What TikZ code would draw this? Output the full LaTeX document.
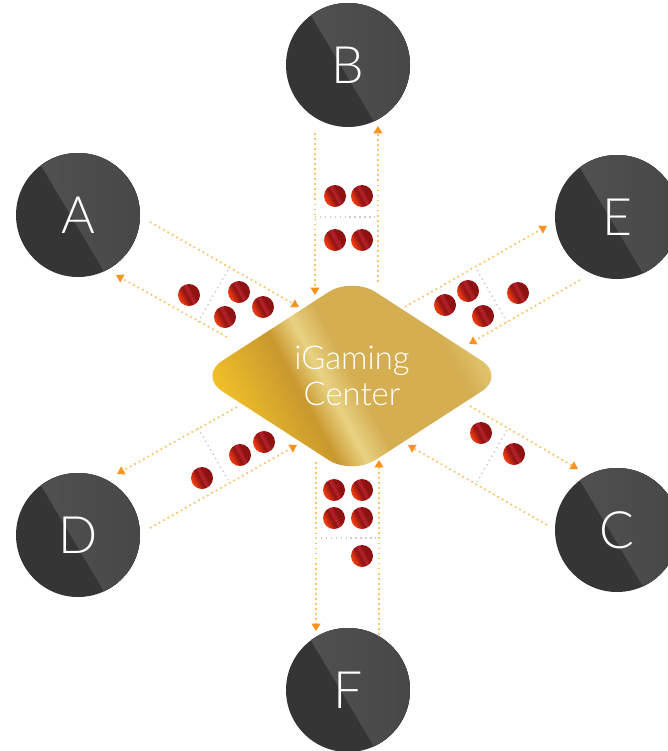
\documentclass[tikz,border=0pt]{standalone}
\usepackage{fontspec}
\setsansfont{Lato Light}
\usetikzlibrary{arrows.meta, shapes.geometric, calc}
\definecolor{cdark}{HTML}{363536}
\definecolor{cband}{HTML}{555454}
\definecolor{cedge}{HTML}{424142}
\definecolor{cflow}{HTML}{F9C46A}
\definecolor{ctip}{HTML}{F7931E}
\definecolor{csep}{HTML}{CCCCCC}
\definecolor{gA}{HTML}{F6C628}
\definecolor{gB}{HTML}{C9982F}
\definecolor{gC}{HTML}{E8D283}
\definecolor{gD}{HTML}{D5AE52}
\definecolor{gE}{HTML}{E6CC78}
\definecolor{rA}{HTML}{EE3A12}
\definecolor{rB}{HTML}{8E1212}
\definecolor{rC}{HTML}{B8232E}
\pgfdeclarehorizontalshading{goldshade}{100bp}{color(0bp)=(gA); color(25bp)=(gA); color(40bp)=(gB); color(45bp)=(gC); color(50bp)=(gD); color(68bp)=(gD); color(75bp)=(gE); color(100bp)=(gE)}
\pgfdeclarehorizontalshading{redshade}{100bp}{color(0bp)=(rA); color(28bp)=(rA); color(45bp)=(rB); color(52bp)=(rC); color(60bp)=(rB); color(100bp)=(rB)}
\tikzset{
  every picture/.style={font=\sffamily},
  station/.style={circle, fill=cdark, minimum size=3.72cm, inner sep=0pt, text=white,
    font=\sffamily\fontsize{44}{44}\selectfont,
    path picture={\fill[left color=cband, right color=cedge]
      ($(path picture bounding box.center)+(-79,-120)$) -- ($(path picture bounding box.center)+(68,127)$)
      -- ($(path picture bounding box.center)+(130,127)$) -- ($(path picture bounding box.center)+(130,-120)$) -- cycle;}},
  hub/.style={diamond, minimum width=9.2cm, minimum height=5.95cm, inner sep=0pt, outer sep=0pt,
    rounded corners=0.84cm, shading=goldshade, shading angle=28, text=white, align=center,
    font=\sffamily\fontsize{28}{31}\selectfont},
  token/.style={circle, minimum size=0.66cm, inner sep=0pt, shading=redshade, shading angle=28},
  flow/.style={draw=cflow, line width=1.5pt, dash pattern=on 1.5pt off 2.8pt,
    -{Triangle[length=2.2mm, width=2.6mm, color=ctip]}},
  split/.style={draw=csep, line width=1.2pt, dash pattern=on 1.2pt off 3pt},
}
\begin{document}
\begin{tikzpicture}[x=0.03cm, y=-0.03cm]
  \useasboundingbox (0,0) rectangle (668,751);
  % flows in and out of the center
  \foreach \n/\sx/\sy/\ex/\ey in {b1/315/133/315/295, b2/378/282/378/126,
      f1/316/462/316/631, f2/379/640/379/460,
      a1/150/222/299/307, a2/227/337/116/275,
      e1/405/307/547/226, e2/580/280/469/344,
      d1/237/407/117/474, d2/150/528/297/445,
      c1/470/406/578/469, c2/547/525/408/445}{
    \coordinate (\n s) at (\sx,\sy);
    \coordinate (\n e) at (\ex,\ey);
    \draw[flow] (\n s) -- (\n e);
  }
  % separators between token groups
  \foreach \n/\sx/\sy/\ex/\ey in {bs/315/217/378/217, fs/316/538/379/538,
      as/228/270/198/322, es/477/270/507/322, ds/198/428/228/480, cs/507/430/477/482}{
    \coordinate (\n1) at (\sx,\sy);
    \coordinate (\n2) at (\ex,\ey);
    \draw[split] (\n1) -- (\n2);
  }
  % stations
  \node[station] (A) at (78,215) {A};
  \node[station] (B) at (348,65) {B};
  \node[station] (C) at (617,530) {C};
  \node[station] (D) at (78,535) {D};
  \node[station] (E) at (617,217) {E};
  \node[station] (F) at (348,690) {F};
  % center
  \node[hub] (hub) at (352,376) {iGaming\\Center};
  % tokens
  \foreach \n/\x/\y in {tb1/335/196, tb2/362/196, tb3/335/240, tb4/362/240,
      tf1/334/490, tf2/362/490, tf3/334/518, tf4/362/518, tf5/362/556,
      ta1/189/295, ta2/239/292, ta3/263/307, ta4/225/317,
      te1/445/305, te2/468/291, te3/483/316, te4/518/293,
      td1/202/478, td2/240/455, td3/264/442,
      tc1/481/433, tc2/514/454}{
    \node[token] (\n) at (\x,\y) {};
  }
\end{tikzpicture}
\end{document}
